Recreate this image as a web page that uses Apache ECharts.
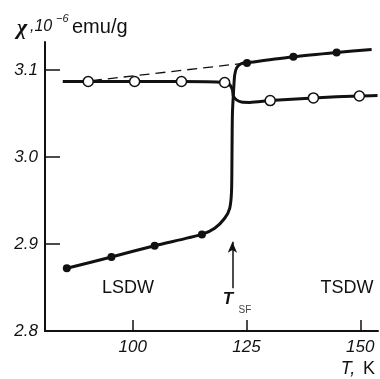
<!DOCTYPE html>
<html>
<head>
<meta charset="utf-8">
<script src="https://cdn.jsdelivr.net/npm/echarts@6/dist/echarts.min.js"></script>
<style>html,body{margin:0;padding:0;background:#fff}#c{width:380px;height:379px}</style>
</head>
<body>
<div id="c"></div>
<script>
// Heating curve (filled symbols) – path
var heatPath = [[85.5,2.872],[95.3,2.885],[104.8,2.898],[115.2,2.911],[118.0,2.918],[120.2,2.9295],[121.3,2.941],[121.7,2.960],[121.8,3.0],[121.9,3.05],[122.2,3.08],[122.4,3.094],[122.8,3.102],[123.8,3.107],[125.1,3.108],[135.3,3.115],[144.8,3.120],[152.5,3.1235]];
var heatPoints = [[85.5,2.872],[95.3,2.885],[104.8,2.898],[115.2,2.911],[125.1,3.108],[135.3,3.115],[144.8,3.120]];
// Cooling curve (open symbols)
var coolPath = [[84.6,3.0866],[90.2,3.0866],[100.4,3.0866],[110.7,3.0866],[120.2,3.0855],[121.3,3.083],[121.9,3.077],[122.1,3.070],[122.8,3.0655],[123.9,3.063],[125.7,3.0626],[130.2,3.0647],[139.7,3.0678],[149.8,3.070],[153.8,3.0705]];
var coolPoints = [[90.2,3.0866],[100.4,3.0866],[110.7,3.0866],[120.2,3.0855],[130.2,3.0647],[139.7,3.0678],[149.8,3.070]];
// Dashed extrapolation
var dashedLine = [[91,3.0876],[125.1,3.108]];
// Arrow marking T_SF
var arrowT = 121.9;
var arrowFrom = 2.849, arrowTo = 2.9026;
// Axis ticks / labels
var xTicks = [100,125,150];
var yTicks = [2.9,3.0,3.1];
var yLabels = [2.8,2.9,3.0,3.1];

var lblFont = "'Liberation Sans', Arial, sans-serif";
var chart = echarts.init(document.getElementById('c'), null, {renderer:'canvas'});
chart.setOption({
  animation:false,
  backgroundColor:'#fff',
  grid:{left:45,right:2,top:42,bottom:48},
  xAxis:{type:'value',min:80.7,max:153.9,
    axisLine:{show:true,lineStyle:{color:'#111',width:2}},
    axisTick:{show:true,inside:true,length:11,customValues:xTicks,lineStyle:{color:'#111',width:1.5}},
    axisLabel:{customValues:xTicks,margin:8,color:'#111',fontSize:17,fontStyle:'italic',fontFamily:lblFont},
    splitLine:{show:false}},
  yAxis:{type:'value',min:2.8,max:3.132,
    axisLine:{show:true,lineStyle:{color:'#111',width:2}},
    axisTick:{show:true,inside:true,length:15,customValues:yTicks,lineStyle:{color:'#111',width:1.5}},
    axisLabel:{customValues:yLabels,margin:7,color:'#111',fontSize:17,fontStyle:'italic',fontFamily:lblFont,
      formatter:function(v){return v.toFixed(1);}},
    splitLine:{show:false}},
  series:[
    {type:'line',data:dashedLine,showSymbol:false,lineStyle:{color:'#111',width:1.3,type:[10,6]},z:2},
    {type:'line',data:heatPath,showSymbol:false,smooth:0.25,lineStyle:{color:'#111',width:3},z:3,
      markLine:{silent:true,symbol:['none','arrow'],symbolSize:[7,11],label:{show:false},
        lineStyle:{color:'#111',width:1.5,type:'solid'},
        data:[[{coord:[arrowT,arrowFrom]},{coord:[arrowT,arrowTo]}]]}},
    {type:'line',data:coolPath,showSymbol:false,smooth:0.25,lineStyle:{color:'#111',width:3},z:3},
    {type:'scatter',data:heatPoints,symbol:'circle',symbolSize:8,itemStyle:{color:'#111',opacity:1},z:5},
    {type:'scatter',data:coolPoints,symbol:'circle',symbolSize:10,itemStyle:{color:'#fff',opacity:1,borderColor:'#111',borderWidth:1.5},z:5}
  ],
  graphic:[
    {type:'text',left:17,top:17,style:{text:'χ',font:"bold italic 22px 'Liberation Serif', serif",fill:'#111'}},
    {type:'text',left:30,top:19,style:{text:',10',font:"italic 16px 'Liberation Sans', sans-serif",fill:'#111'}},
    {type:'text',left:56,top:13,style:{text:'−6',font:"italic 11px 'Liberation Sans', sans-serif",fill:'#111'}},
    {type:'text',left:72,top:17,style:{text:'emu/g',font:"20px 'Liberation Sans', sans-serif",fill:'#111'}},
    {type:'text',x:128,y:288,style:{text:'LSDW',font:"18px 'Liberation Sans', sans-serif",fill:'#111',align:'center',verticalAlign:'middle'}},
    {type:'text',x:347,y:288,style:{text:'TSDW',font:"18px 'Liberation Sans', sans-serif",fill:'#111',align:'center',verticalAlign:'middle'}},
    {type:'text',x:228,y:299,style:{text:'T',font:"bold italic 17px 'Liberation Sans', sans-serif",fill:'#111',align:'center',verticalAlign:'middle'}},
    {type:'text',x:245,y:310,style:{text:'SF',font:"10px 'Liberation Sans', sans-serif",fill:'#444',align:'center',verticalAlign:'middle'}},
    {type:'text',x:348,y:369,style:{text:'T,',font:"italic 18px 'Liberation Sans', sans-serif",fill:'#111',align:'center',verticalAlign:'middle'}},
    {type:'text',x:369,y:369,style:{text:'K',font:"18px 'Liberation Sans', sans-serif",fill:'#111',align:'center',verticalAlign:'middle'}}
  ]
});
</script>
</body>
</html>
